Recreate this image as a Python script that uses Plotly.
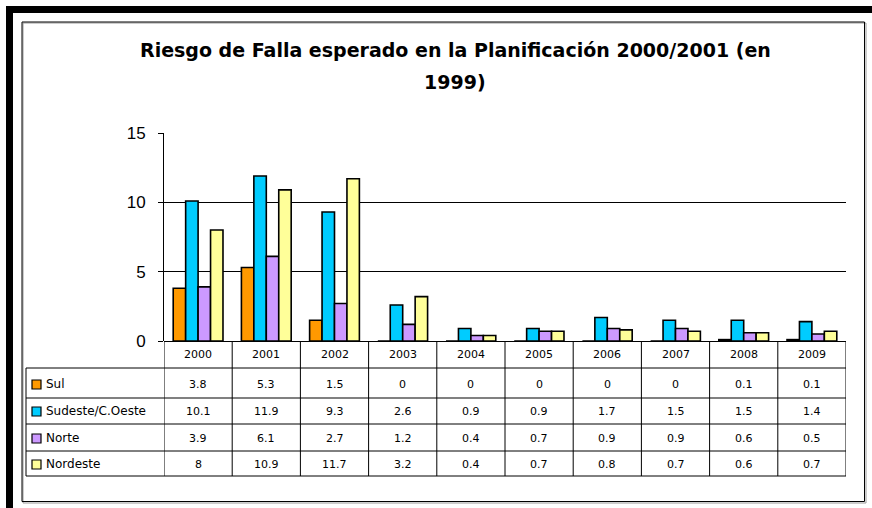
import plotly.graph_objects as go

years = ['2000', '2001', '2002', '2003', '2004', '2005', '2006', '2007', '2008', '2009']
series_names = ['Sul', 'Sudeste/C.Oeste', 'Norte', 'Nordeste']
sul = [3.8, 5.3, 1.5, 0, 0, 0, 0, 0, 0.1, 0.1]
sudeste = [10.1, 11.9, 9.3, 2.6, 0.9, 0.9, 1.7, 1.5, 1.5, 1.4]
norte = [3.9, 6.1, 2.7, 1.2, 0.4, 0.7, 0.9, 0.9, 0.6, 0.5]
nordeste = [8, 10.9, 11.7, 3.2, 0.4, 0.7, 0.8, 0.7, 0.6, 0.7]
y_ticks = [0, 5, 10, 15]
title_line1 = 'Riesgo de Falla esperado en la Planificación 2000/2001 (en'
title_line2 = '1999)'

series_values = [sul, sudeste, norte, nordeste]
colors = ['#FF9900', '#00CCFF', '#CC99FF', '#FFFF99']

W, H = 872, 508


def px(x):
    return x / W


def py(y):
    return 1 - y / H


fig = go.Figure()
for name, vals, col in zip(series_names, series_values, colors):
    fig.add_trace(go.Bar(
        x=years, y=vals, name=name,
        marker=dict(color=col, line=dict(color='black', width=1.6)),
        showlegend=False,
    ))

shapes = []
annotations = []

# outer decorative frame
shapes.append(dict(type='rect', xref='paper', yref='paper', x0=px(6), x1=px(872), y0=py(13), y1=py(6),
                   fillcolor='black', line=dict(width=0), layer='above'))
shapes.append(dict(type='rect', xref='paper', yref='paper', x0=px(6), x1=px(13), y0=py(508), y1=py(6),
                   fillcolor='black', line=dict(width=0), layer='above'))
# inner chart-area border with shadow
shapes.append(dict(type='rect', xref='paper', yref='paper', x0=px(23), x1=px(866), y0=py(503), y1=py(23),
                   fillcolor='rgba(0,0,0,0)', line=dict(color='#9a9a9a', width=1)))
shapes.append(dict(type='rect', xref='paper', yref='paper', x0=px(22), x1=px(864.5), y0=py(501.5), y1=py(22),
                   fillcolor='rgba(0,0,0,0)', line=dict(color='black', width=1)))

# data-table lines
row_lines = [368, 398, 424, 451, 476]
for i, yy in enumerate(row_lines):
    shapes.append(dict(type='line', xref='paper', yref='paper', x0=px(26), x1=px(846), y0=py(yy), y1=py(yy),
                       line=dict(color='#808080' if i == 1 else 'black', width=2 if i == 1 else 1)))
shapes.append(dict(type='line', xref='paper', yref='paper', x0=px(26), x1=px(26), y0=py(368), y1=py(476),
                   line=dict(color='black', width=1)))
for k in range(len(years) + 1):
    shapes.append(dict(type='line', xref='x', yref='paper', x0=k - 0.5, x1=k - 0.5, y0=py(341), y1=py(476),
                       line=dict(color='black', width=1)))

# table text
table_font = dict(family='DejaVu Sans', size=11, color='black')
label_font = dict(family='DejaVu Sans', size=12, color='black')
header_y = 354
row_y = [384, 411, 438, 464]
for i, yr in enumerate(years):
    annotations.append(dict(x=i, y=py(header_y), xref='x', yref='paper', text=yr, showarrow=False,
                            font=table_font, xanchor='center', yanchor='middle'))
for name, vals, col, yy in zip(series_names, series_values, colors, row_y):
    shapes.append(dict(type='rect', xref='paper', yref='paper', x0=px(32), x1=px(41), y0=py(yy + 5), y1=py(yy - 4),
                       fillcolor=col, line=dict(color='black', width=1.2)))
    annotations.append(dict(x=px(44), y=py(yy), xref='paper', yref='paper', text=name, showarrow=False,
                            font=label_font, xanchor='left', yanchor='middle'))
    for i, v in enumerate(vals):
        annotations.append(dict(x=i, y=py(yy), xref='x', yref='paper', text=f'{v:g}', showarrow=False,
                                font=table_font, xanchor='center', yanchor='middle'))

# title
title_font = dict(family='DejaVu Sans', size=19, color='black')
annotations.append(dict(x=px(455), y=py(50), xref='paper', yref='paper', text='<b>' + title_line1 + '</b>',
                        showarrow=False, font=title_font, xanchor='center', yanchor='middle'))
annotations.append(dict(x=px(455), y=py(82), xref='paper', yref='paper', text='<b>' + title_line2 + '</b>',
                        showarrow=False, font=title_font, xanchor='center', yanchor='middle'))

fig.update_layout(
    width=W, height=H,
    margin=dict(l=0, r=0, t=0, b=0, autoexpand=False),
    paper_bgcolor='white', plot_bgcolor='white',
    barmode='group', bargap=0.27, bargroupgap=0,
    shapes=shapes, annotations=annotations,
    xaxis=dict(domain=[px(164), px(846)], type='category', range=[-0.5, 9.5], automargin=False,
               showticklabels=False, showline=False, showgrid=False, ticks=''),
    yaxis=dict(domain=[py(341), py(133)], range=[0, 15], tickvals=y_ticks, automargin=False,
               showline=True, linecolor='black', linewidth=1,
               ticks='outside', ticklen=5, tickcolor='black',
               showgrid=True, gridcolor='black', gridwidth=1,
               zeroline=True, zerolinecolor='black', zerolinewidth=1,
               tickfont=dict(family='Liberation Sans', size=17, color='black'),
               ticklabelstandoff=9),
)

fig.write_html('out.html', config={'displayModeBar': False},
               post_script="document.body.style.margin='0';document.body.style.overflow='hidden';")
